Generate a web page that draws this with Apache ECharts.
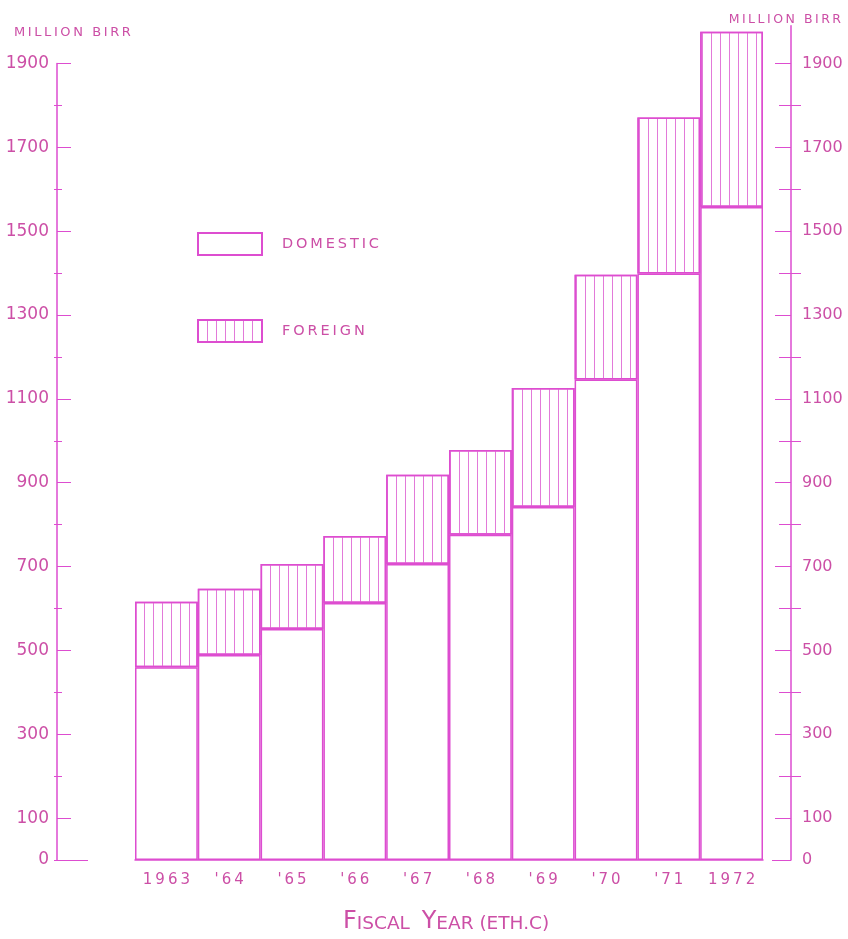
<!DOCTYPE html>
<html>
<head>
<meta charset="utf-8">
<script src="https://cdn.jsdelivr.net/npm/echarts@6/dist/echarts.min.js"></script>
<style>
html,body{margin:0;padding:0;background:#fff;overflow:hidden;}
#c{width:848px;height:939px;}
</style>
</head>
<body>
<div id="c"></div>
<script>
const years = ['1963', "'64", "'65", "'66", "'67", "'68", "'69", "'70", "'71", '1972'];
const domestic = [460, 489, 551, 613, 706, 776, 842, 1146, 1399, 1558];
const foreign = [156, 158, 155, 160, 213, 202, 284, 250, 372, 418];
const labeledTicks = [0, 100, 300, 500, 700, 900, 1100, 1300, 1500, 1700, 1900];
const minorTicks = [200, 400, 600, 800, 1000, 1200, 1400, 1600, 1800];

const LINE = '#dd4dd0';
const HATCH = '#e27ad9';
const TEXT = '#cc4fa6';
const FONT = 'DejaVu Sans';

const chart = echarts.init(document.getElementById('c'), null, {renderer: 'canvas'});

function yax(o) {
  return Object.assign({
    type: 'value', min: 0, splitLine: {show: false},
    axisLine: {show: false}, axisLabel: {show: false}, axisTick: {show: false}
  }, o);
}
const plain = function (v) { return String(v); };
const spaced = function (s) { return String(s).split('').join('\u2009'); };

const option = {
  backgroundColor: '#ffffff',
  animation: false,
  title: [
    {text: spaced('MILLION BIRR'), left: 9, top: 21, textStyle: {fontFamily: FONT, fontSize: 13, fontWeight: 'normal', color: TEXT}},
    {text: spaced('MILLION BIRR'), right: 2, top: 8, textStyle: {fontFamily: FONT, fontSize: 12.5, fontWeight: 'normal', color: TEXT}}
  ],
  grid: [
    {left: 135, right: 85, top: 63.5, bottom: 79},
    {left: 135, right: 85, top: 25.8, bottom: 79}
  ],
  xAxis: [
    {type: 'category', gridIndex: 0, data: years, show: false},
    {type: 'category', gridIndex: 1, data: years, boundaryGap: true,
     axisLine: {lineStyle: {color: LINE, width: 1.5}},
     axisTick: {show: false},
     axisLabel: {color: TEXT, fontFamily: FONT, fontSize: 15, margin: 13, formatter: spaced}}
  ],
  yAxis: [
    yax({gridIndex: 0, position: 'left', offset: 78, max: 1900,
      axisLine: {show: true, lineStyle: {color: LINE, width: 1.5}},
      axisTick: {show: true, inside: true, length: 14, customValues: labeledTicks, lineStyle: {color: LINE, width: 1}},
      axisLabel: {show: true, customValues: labeledTicks, formatter: plain, margin: 8, color: TEXT, fontFamily: FONT, fontSize: 17}}),
    yax({gridIndex: 0, position: 'left', offset: 78, max: 1900,
      axisTick: {show: true, inside: true, length: 5, customValues: minorTicks, lineStyle: {color: LINE, width: 1}}}),
    yax({gridIndex: 0, position: 'left', offset: 78, max: 1900,
      axisTick: {show: true, inside: false, length: 3, customValues: minorTicks.concat([0]), lineStyle: {color: LINE, width: 1}}}),
    yax({gridIndex: 0, position: 'left', offset: 78, max: 1900,
      axisTick: {show: true, inside: true, length: 31, customValues: [0], lineStyle: {color: LINE, width: 1}}}),
    yax({gridIndex: 1, position: 'right', offset: 28, max: 1990,
      axisLine: {show: true, lineStyle: {color: LINE, width: 1.5}},
      axisTick: {show: true, inside: true, length: 16, customValues: labeledTicks, lineStyle: {color: LINE, width: 1}},
      axisLabel: {show: true, customValues: labeledTicks, formatter: plain, margin: 11, color: TEXT, fontFamily: FONT, fontSize: 16}}),
    yax({gridIndex: 1, position: 'right', offset: 28, max: 1990,
      axisTick: {show: true, inside: true, length: 12, customValues: minorTicks, lineStyle: {color: LINE, width: 1}}}),
    yax({gridIndex: 1, position: 'right', offset: 28, max: 1990,
      axisTick: {show: true, inside: false, length: 10, customValues: minorTicks, lineStyle: {color: LINE, width: 1}}}),
    yax({gridIndex: 1, position: 'right', offset: 28, max: 1990,
      axisTick: {show: true, inside: true, length: 19, customValues: [0], lineStyle: {color: LINE, width: 1}}})
  ],
  legend: {
    orient: 'vertical', left: 197, top: 232, padding: 0, itemWidth: 64, itemHeight: 22, itemGap: 63,
    icon: 'rect',
    textStyle: {color: TEXT, fontFamily: FONT, fontSize: 14.5, padding: [0, 0, 0, 15]},
    formatter: function (n) { return spaced(n.toUpperCase()); },
    data: ['Domestic', 'Foreign']
  },
  series: [
    {name: 'Domestic', type: 'bar', stack: 'total', xAxisIndex: 1, yAxisIndex: 4,
     barCategoryGap: 0, data: domestic,
     itemStyle: {color: '#ffffff', borderColor: LINE, borderWidth: 1.5}},
    {name: 'Foreign', type: 'bar', stack: 'total', xAxisIndex: 1, yAxisIndex: 4,
     barCategoryGap: 0, data: foreign,
     itemStyle: {color: '#ffffff', borderColor: LINE, borderWidth: 1.5,
       decal: {symbol: 'rect', symbolSize: 1, dashArrayX: [1, 7.5], dashArrayY: [4, 0], color: HATCH, rotation: 0}}}
  ],
  graphic: [
    {type: 'text', left: 343, top: 910,
     style: {
       text: '{b|F}{s|ISCAL  }{b|Y}{s|EAR (ETH.C)}',
       rich: {
         b: {fontFamily: FONT, fontSize: 24, fill: TEXT, verticalAlign: 'bottom'},
         s: {fontFamily: FONT, fontSize: 18.5, fill: TEXT, verticalAlign: 'bottom'}
       }
     }}
  ]
};
chart.setOption(option);
</script>
</body>
</html>
